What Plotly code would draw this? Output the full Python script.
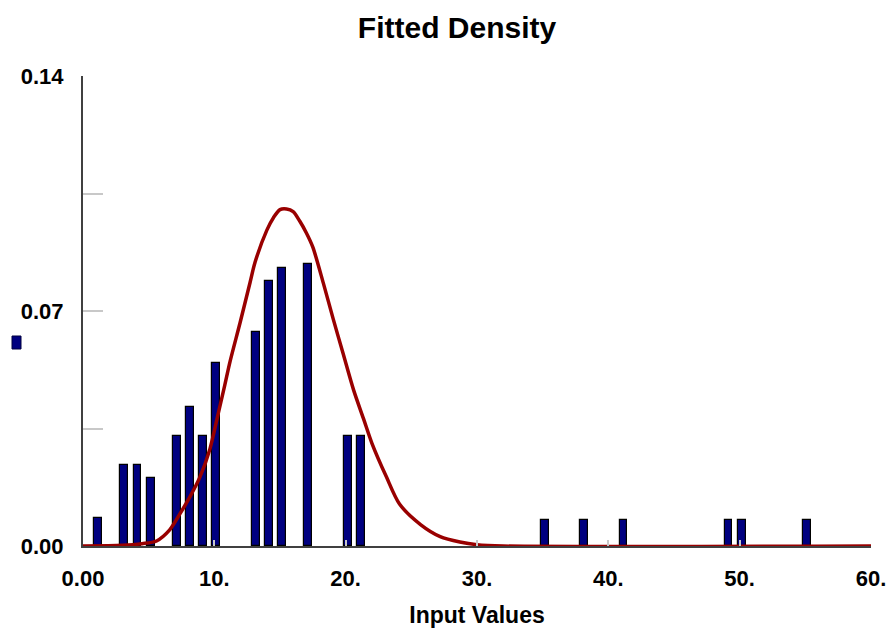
import plotly.graph_objects as go

# Histogram bars (input value, relative frequency)
bar_x = [1, 3, 4, 5, 7, 8, 9, 10, 13, 14, 15, 17, 20, 21, 35, 38, 41, 49, 50, 55]
bar_y = [0.0083, 0.0241, 0.0241, 0.0202, 0.0327, 0.0413, 0.0327, 0.0544,
         0.0638, 0.0789, 0.0828, 0.0840, 0.0327, 0.0327,
         0.0078, 0.0078, 0.0078, 0.0078, 0.0078, 0.0078]

# Fitted density curve
curve_x = [0, 3.0, 4.5, 5.6, 6.6, 7.4, 8.15, 8.9, 9.67, 10.3, 10.8, 11.2, 11.96,
           12.72, 13.1, 14.0, 14.5, 15.0, 15.5, 16.0, 16.5, 17.0, 17.5, 18.3,
           19.06, 19.8, 20.6, 21.35, 22.0, 23.1, 24.1, 25.7, 27.2, 28.7, 30.0,
           32.0, 60.0]
curve_y = [0, 0.0002, 0.0007, 0.0015, 0.0048, 0.0097, 0.0147, 0.0205, 0.0290,
           0.0395, 0.0480, 0.0550, 0.0665, 0.0785, 0.0845, 0.0941, 0.0978,
           0.1002, 0.1004, 0.0996, 0.0968, 0.0933, 0.0890, 0.0783, 0.0675,
           0.0574, 0.0465, 0.0380, 0.0306, 0.0206, 0.0125, 0.0064, 0.0028,
           0.0012, 0.0004, 0, 0]

x_tickvals = [0, 10, 20, 30, 40, 50, 60]
x_ticktext = ["0.00", "10.", "20.", "30.", "40.", "50.", "60."]
y_tickvals = [0, 0.035, 0.07, 0.105, 0.14]
y_ticktext = ["0.00", "", "0.07", "", "0.14"]

FONT = "Arial, Liberation Sans, sans-serif"

fig = go.Figure()
fig.add_trace(go.Bar(
    x=bar_x, y=bar_y, width=0.6, offset=-0.15,
    marker=dict(color="#000080", line=dict(color="#000000", width=1.2)),
    showlegend=False,
))
fig.add_trace(go.Scatter(
    x=curve_x, y=curve_y, mode="lines",
    line=dict(color="#990000", width=3.5, shape="spline", smoothing=0.8),
    showlegend=False, cliponaxis=False,
))

# legend swatch at left
fig.add_shape(type="rect", xref="paper", yref="paper",
              x0=(12 - 83) / 788, x1=(21 - 83) / 788,
              y0=(546 - 349) / 470, y1=(546 - 336) / 470,
              fillcolor="#000080", line=dict(color="#000040", width=1))

fig.update_layout(
    width=888, height=628,
    margin=dict(l=83, r=17, t=76, b=82, autoexpand=False),
    paper_bgcolor="white", plot_bgcolor="white",
    font=dict(family=FONT, color="#000000"),
    title=dict(text="Fitted Density", x=457 / 888, xanchor="center",
               y=1 - 27 / 628, yanchor="middle",
               font=dict(size=30, family=FONT, color="#000000", weight="bold")),
    bargap=0,
)
fig.update_xaxes(
    range=[0, 60], tickvals=x_tickvals, ticktext=x_ticktext,
    showgrid=False, zeroline=False, automargin=False,
    showline=True, linecolor="#404040", linewidth=2,
    ticks="inside", ticklen=6, tickcolor="#c8c8c8", tickwidth=1.5,
    tickfont=dict(size=22, family=FONT, color="#000000", weight="bold"),
    ticklabelstandoff=12,
    title=dict(text="Input Values",
               font=dict(size=23, family=FONT, color="#000000", weight="bold"),
               standoff=20),
)
fig.update_yaxes(
    range=[0, 0.14], tickvals=y_tickvals, ticktext=y_ticktext,
    showgrid=False, zeroline=False, automargin=False,
    showline=True, linecolor="#404040", linewidth=2,
    ticks="inside", ticklen=20, tickcolor="#c8c8c8", tickwidth=1.5,
    tickfont=dict(size=22, family=FONT, color="#000000", weight="bold"),
    ticklabelstandoff=13,
)

fig.write_html("out.html",
               config={"displayModeBar": False},
               post_script="document.body.style.margin='0';document.body.style.padding='0';")
